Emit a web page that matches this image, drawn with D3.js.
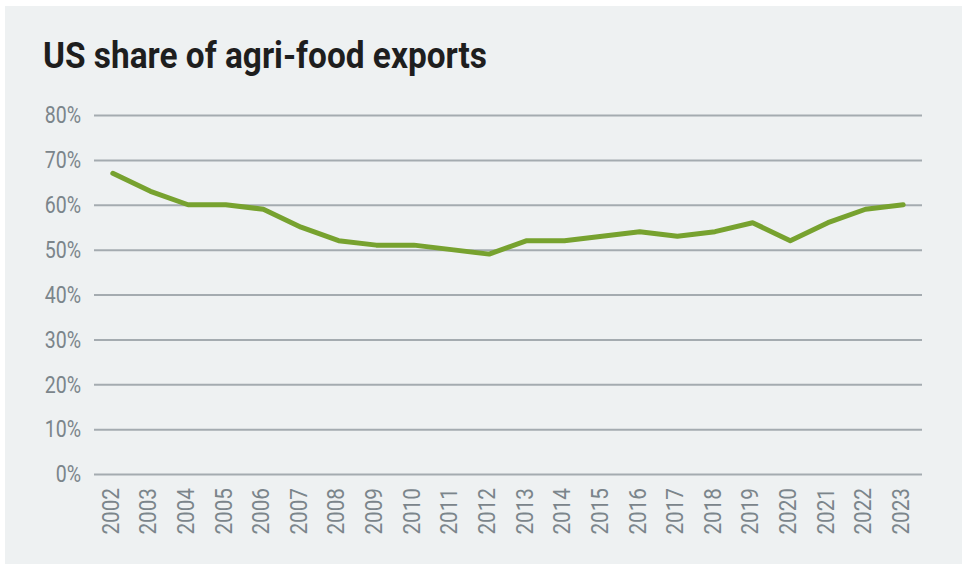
<!DOCTYPE html>
<html>
<head>
<meta charset="utf-8">
<script src="https://cdn.jsdelivr.net/npm/d3@7"></script>
<style>
  html, body { margin: 0; padding: 0; background: #ffffff; }
  svg { display: block; }
</style>
</head>
<body>
<script>
const title = "US share of agri-food exports";
const years = ["2002","2003","2004","2005","2006","2007","2008","2009","2010","2011","2012","2013","2014","2015","2016","2017","2018","2019","2020","2021","2022","2023"];
const shareValues = [67, 63, 60, 60, 59, 55, 52, 51, 51, 50, 49, 52, 52, 53, 54, 53, 54, 56, 52, 56, 59, 60];
const yTicks = [0, 10, 20, 30, 40, 50, 60, 70, 80];

const W = 962, H = 564;
const svg = d3.select("body").append("svg").attr("width", W).attr("height", H);

svg.append("rect").attr("x", 5).attr("y", 6).attr("width", W - 5).attr("height", H - 6).attr("fill", "#eef1f2");

const plotLeft = 94, plotRight = 922, plotTop = 115, plotBottom = 474;
const x = d3.scalePoint().domain(years).range([plotLeft, plotRight]).padding(0.5);
const y = d3.scaleLinear().domain([0, 80]).range([plotBottom, plotTop]);

// title
svg.append("text")
  .attr("x", 43).attr("y", 68)
  .attr("font-family", "Roboto, 'Noto Sans', sans-serif")
  .attr("font-weight", 700)
  .attr("font-size", 37)
  .attr("fill", "#1e1e1e")
  .attr("textLength", 444)
  .attr("lengthAdjust", "spacingAndGlyphs")
  .text(title);

// y axis with gridlines
const yAxis = d3.axisLeft(y).tickValues(yTicks).tickSize(-(plotRight - plotLeft)).tickPadding(13).tickFormat(d => d + "%");
const gy = svg.append("g").attr("transform", `translate(${plotLeft},0)`).call(yAxis);
gy.select(".domain").remove();
gy.selectAll(".tick line").attr("stroke", "#a4abb0").attr("stroke-width", 2);
gy.selectAll(".tick text")
  .attr("font-family", "Roboto, 'Noto Sans', sans-serif")
  .attr("font-size", 23)
  .attr("fill", "#7b858b")
  .attr("dy", "0.34em")
  .each(function() {
    const len = this.getComputedTextLength();
    d3.select(this).attr("textLength", len * 0.85).attr("lengthAdjust", "spacingAndGlyphs");
  });

// x axis labels
const xAxis = d3.axisBottom(x).tickSize(0).tickPadding(0);
const gx = svg.append("g").attr("transform", `translate(0,${plotBottom})`).call(xAxis);
gx.select(".domain").remove();
gx.selectAll(".tick line").remove();
gx.selectAll(".tick text")
  .attr("font-family", "Roboto, 'Noto Sans', sans-serif")
  .attr("font-size", 23)
  .attr("fill", "#7b858b")
  .attr("text-anchor", "end")
  .attr("transform", "rotate(-90)")
  .attr("x", -14)
  .attr("y", 0)
  .attr("dy", "0.34em")
  .attr("dx", 0)
  .each(function() {
    const len = this.getComputedTextLength();
    d3.select(this).attr("textLength", len * 0.9).attr("lengthAdjust", "spacingAndGlyphs");
  });
gx.selectAll(".tick").attr("transform", d => `translate(${x(d) - 2},0)`);

// line
const line = d3.line().x((d, i) => x(years[i])).y(d => y(d));
svg.append("path")
  .datum(shareValues)
  .attr("d", line)
  .attr("fill", "none")
  .attr("stroke", "#77a22f")
  .attr("stroke-width", 5)
  .attr("stroke-linejoin", "round")
  .attr("stroke-linecap", "round");
</script>
</body>
</html>
